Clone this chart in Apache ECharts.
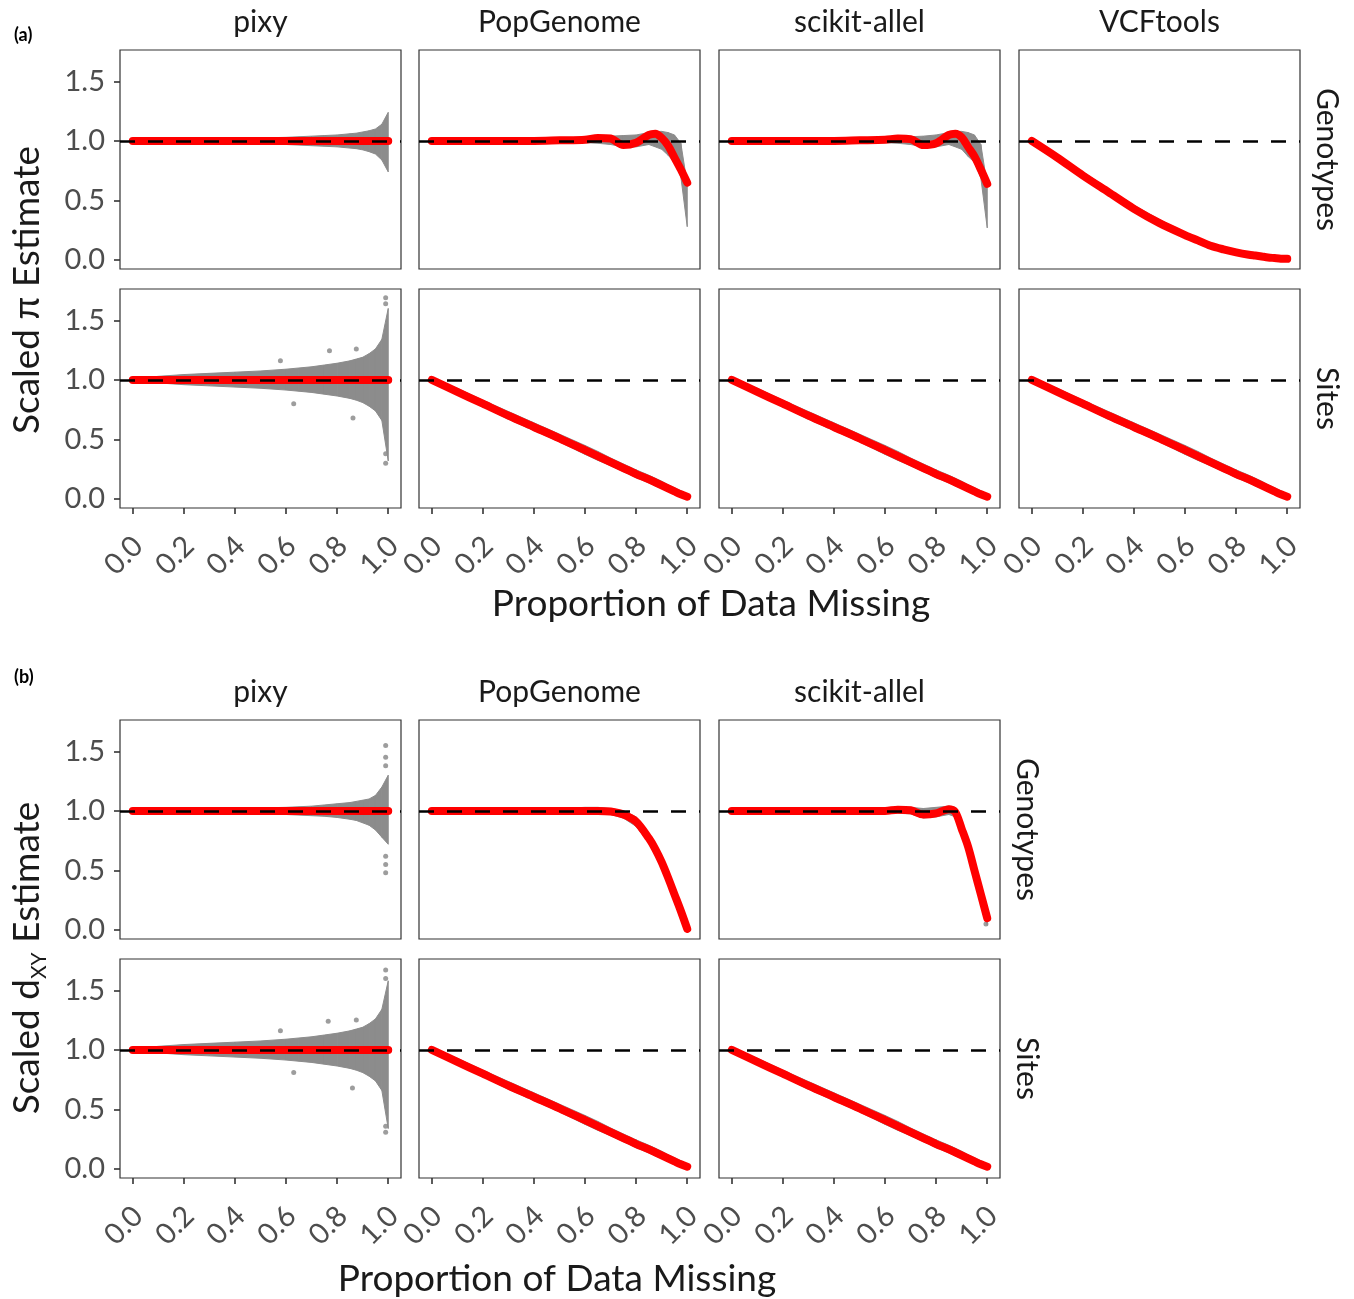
<!DOCTYPE html>
<html>
<head>
<meta charset="utf-8">
<script src="https://cdn.jsdelivr.net/npm/echarts@6.0.0/dist/echarts.min.js"></script>
<style>
  body { margin: 0; background: #fff; }
  #chart { width: 1354px; height: 1299px; }
</style>
</head>
<body>
<div id="chart"></div>
<script>
// proportion of data missing, where the curves were read
const xGrid = [0, 0.1, 0.2, 0.3, 0.4, 0.5, 0.6, 0.65, 0.7, 0.75, 0.8, 0.85, 0.875, 0.9, 0.925, 0.95, 0.975, 1.0]

const xTicks = [0, 0.2, 0.4, 0.6, 0.8, 1.0]
const xTickText = ['0.0', '0.2', '0.4', '0.6', '0.8', '1.0']
const yTicks = [0, 0.5, 1.0, 1.5]
const yTickText = ['0.0', '0.5', '1.0', '1.5']

const tools = ['pixy', 'PopGenome', 'scikit-allel', 'VCFtools']
const missingTypes = ['Genotypes', 'Sites']

// (a) pi, genotypes missing
const piPixyGenoFit = [1, 1, 1, 1, 1, 1, 1, 1, 1, 1, 1, 1, 1, 1, 1, 1, 1, 1]
const piPixyGenoHi = [1.005, 1.01, 1.012, 1.015, 1.02, 1.025, 1.03, 1.035, 1.04, 1.045, 1.05, 1.06, 1.065, 1.075, 1.085, 1.10, 1.14, 1.24]
const piPixyGenoLo = [0.995, 0.99, 0.988, 0.985, 0.98, 0.975, 0.97, 0.965, 0.96, 0.955, 0.95, 0.94, 0.935, 0.925, 0.91, 0.89, 0.84, 0.74]

const piPopGenoFit = [1.0, 1.0, 1.0, 1.0, 1.0, 1.005, 1.01, 1.025, 1.02, 0.965, 0.985, 1.05, 1.06, 1.025, 0.96, 0.86, 0.76, 0.65]
const piPopGenoHi = [1.01, 1.01, 1.01, 1.01, 1.012, 1.015, 1.02, 1.035, 1.04, 1.045, 1.05, 1.07, 1.08, 1.08, 1.07, 1.05, 0.98, 0.64]
const piPopGenoLo = [0.99, 0.99, 0.99, 0.99, 0.988, 0.985, 0.985, 0.98, 0.97, 0.95, 0.95, 0.97, 0.95, 0.93, 0.88, 0.82, 0.70, 0.28]

const piSkGenoFit = [1.0, 1.0, 1.0, 1.0, 1.0, 1.005, 1.01, 1.02, 1.015, 0.965, 0.98, 1.05, 1.06, 1.03, 0.95, 0.87, 0.76, 0.64]
const piSkGenoHi = [1.01, 1.01, 1.01, 1.01, 1.012, 1.015, 1.02, 1.03, 1.035, 1.04, 1.05, 1.07, 1.08, 1.08, 1.07, 1.05, 0.97, 0.63]
const piSkGenoLo = [0.99, 0.99, 0.99, 0.99, 0.988, 0.985, 0.985, 0.98, 0.97, 0.95, 0.95, 0.97, 0.95, 0.93, 0.87, 0.82, 0.69, 0.27]

const piVcfGenoFit = [1.0, 0.86, 0.71, 0.57, 0.43, 0.31, 0.21, 0.165, 0.12, 0.09, 0.065, 0.045, 0.038, 0.03, 0.022, 0.017, 0.012, 0.01]
const piVcfGenoHi = [1.01, 0.885, 0.74, 0.60, 0.46, 0.34, 0.235, 0.19, 0.145, 0.11, 0.085, 0.065, 0.055, 0.045, 0.035, 0.03, 0.025, 0.02]
const piVcfGenoLo = [0.99, 0.85, 0.70, 0.56, 0.42, 0.30, 0.20, 0.155, 0.11, 0.08, 0.055, 0.035, 0.028, 0.02, 0.014, 0.01, 0.006, 0.004]

// (a) pi, sites missing
const piPixySitesFit = [1, 1, 1, 1, 1, 1, 1, 1, 1, 1, 1, 1, 1, 1, 1, 1, 1, 1]
const piPixySitesHi = [1.01, 1.03, 1.045, 1.055, 1.065, 1.075, 1.09, 1.10, 1.11, 1.125, 1.14, 1.16, 1.175, 1.19, 1.22, 1.26, 1.34, 1.60]
const piPixySitesLo = [0.99, 0.975, 0.96, 0.95, 0.94, 0.93, 0.915, 0.905, 0.895, 0.88, 0.865, 0.845, 0.83, 0.81, 0.78, 0.74, 0.66, 0.32]
const piPixySitesStray = [[0.578, 1.16], [0.63, 0.80], [0.77, 1.245], [0.862, 0.68], [0.875, 1.26], [0.99, 1.69], [0.99, 1.64], [0.99, 0.38], [0.99, 0.30]]

// the linear fall-off shared by the non-pixy tools when whole sites are missing
const sitesFit = [1.0, 0.90, 0.80, 0.70, 0.605, 0.51, 0.41, 0.36, 0.31, 0.26, 0.21, 0.165, 0.14, 0.115, 0.09, 0.065, 0.04, 0.02]
const sitesHi = [1.01, 0.93, 0.83, 0.735, 0.64, 0.545, 0.45, 0.40, 0.345, 0.295, 0.245, 0.20, 0.175, 0.15, 0.12, 0.095, 0.07, 0.035]
const sitesLo = [0.99, 0.875, 0.775, 0.67, 0.575, 0.48, 0.375, 0.325, 0.28, 0.23, 0.18, 0.135, 0.11, 0.09, 0.065, 0.04, 0.02, 0.01]

// (b) dxy, genotypes missing
const dxyPixyGenoFit = [1, 1, 1, 1, 1, 1, 1, 1, 1, 1, 1, 1, 1, 1, 1, 1, 1, 1]
const dxyPixyGenoHi = [1.005, 1.01, 1.012, 1.015, 1.02, 1.025, 1.03, 1.035, 1.04, 1.05, 1.06, 1.07, 1.08, 1.09, 1.10, 1.13, 1.20, 1.30]
const dxyPixyGenoLo = [0.995, 0.99, 0.988, 0.985, 0.98, 0.975, 0.97, 0.965, 0.96, 0.955, 0.945, 0.93, 0.92, 0.90, 0.88, 0.84, 0.78, 0.72]
const dxyPixyGenoStray = [[0.99, 1.55], [0.99, 1.45], [0.99, 1.38], [0.99, 0.62], [0.99, 0.55], [0.99, 0.48]]

const dxyPopGenoFit = [1.0, 1.0, 1.0, 1.0, 1.0, 1.0, 1.0, 1.0, 0.995, 0.97, 0.91, 0.77, 0.68, 0.57, 0.44, 0.30, 0.16, 0.01]
const dxyPopGenoHi = [1.01, 1.01, 1.01, 1.015, 1.02, 1.02, 1.03, 1.03, 1.02, 1.0, 0.95, 0.81, 0.72, 0.61, 0.48, 0.34, 0.20, 0.03]
const dxyPopGenoLo = [0.99, 0.99, 0.99, 0.99, 0.985, 0.985, 0.98, 0.975, 0.97, 0.94, 0.87, 0.73, 0.64, 0.53, 0.40, 0.26, 0.12, 0.0]

const dxySkGenoFit = [1.0, 1.0, 1.0, 1.0, 1.0, 1.0, 1.0, 1.01, 1.005, 0.97, 0.98, 1.015, 0.99, 0.85, 0.70, 0.50, 0.30, 0.10]
const dxySkGenoHi = [1.01, 1.01, 1.01, 1.01, 1.015, 1.02, 1.02, 1.03, 1.03, 1.02, 1.03, 1.04, 1.03, 0.90, 0.74, 0.54, 0.34, 0.12]
const dxySkGenoLo = [0.99, 0.99, 0.99, 0.99, 0.985, 0.98, 0.98, 0.98, 0.975, 0.94, 0.95, 0.97, 0.95, 0.81, 0.66, 0.46, 0.26, 0.04]
const dxySkGenoStray = [[0.995, 0.05]]

// (b) dxy, sites missing
const dxyPixySitesFit = [1, 1, 1, 1, 1, 1, 1, 1, 1, 1, 1, 1, 1, 1, 1, 1, 1, 1]
const dxyPixySitesHi = [1.01, 1.03, 1.045, 1.055, 1.065, 1.075, 1.09, 1.10, 1.11, 1.125, 1.14, 1.16, 1.175, 1.19, 1.22, 1.26, 1.34, 1.58]
const dxyPixySitesLo = [0.99, 0.975, 0.96, 0.95, 0.94, 0.93, 0.915, 0.905, 0.895, 0.88, 0.865, 0.845, 0.83, 0.81, 0.78, 0.74, 0.66, 0.34]
const dxyPixySitesStray = [[0.578, 1.16], [0.63, 0.81], [0.765, 1.24], [0.86, 0.68], [0.875, 1.25], [0.99, 1.67], [0.99, 1.60], [0.99, 0.36], [0.99, 0.31]]

// layout of the facets (pixels)
const colLeft = [120, 419, 719, 1019]
const rowTop = { a: [50, 289], b: [720, 959] }
const panelW = 281
const panelH = 219

const panels = [
  { block: 'a', row: 0, col: 0, fit: piPixyGenoFit, hi: piPixyGenoHi, lo: piPixyGenoLo },
  { block: 'a', row: 0, col: 1, fit: piPopGenoFit, hi: piPopGenoHi, lo: piPopGenoLo },
  { block: 'a', row: 0, col: 2, fit: piSkGenoFit, hi: piSkGenoHi, lo: piSkGenoLo },
  { block: 'a', row: 0, col: 3, fit: piVcfGenoFit, hi: piVcfGenoHi, lo: piVcfGenoLo },
  { block: 'a', row: 1, col: 0, fit: piPixySitesFit, hi: piPixySitesHi, lo: piPixySitesLo, stray: piPixySitesStray },
  { block: 'a', row: 1, col: 1, fit: sitesFit, hi: sitesHi, lo: sitesLo },
  { block: 'a', row: 1, col: 2, fit: sitesFit, hi: sitesHi, lo: sitesLo },
  { block: 'a', row: 1, col: 3, fit: sitesFit, hi: sitesHi, lo: sitesLo },
  { block: 'b', row: 0, col: 0, fit: dxyPixyGenoFit, hi: dxyPixyGenoHi, lo: dxyPixyGenoLo, stray: dxyPixyGenoStray },
  { block: 'b', row: 0, col: 1, fit: dxyPopGenoFit, hi: dxyPopGenoHi, lo: dxyPopGenoLo },
  { block: 'b', row: 0, col: 2, fit: dxySkGenoFit, hi: dxySkGenoHi, lo: dxySkGenoLo, stray: dxySkGenoStray },
  { block: 'b', row: 1, col: 0, fit: dxyPixySitesFit, hi: dxyPixySitesHi, lo: dxyPixySitesLo, stray: dxyPixySitesStray },
  { block: 'b', row: 1, col: 1, fit: sitesFit, hi: sitesHi, lo: sitesLo },
  { block: 'b', row: 1, col: 2, fit: sitesFit, hi: sitesHi, lo: sitesLo }
]

const FONT = 'Lato, "Noto Sans", sans-serif'
const GREY = '#8c8c8c'

function tickText(ticks, texts, v) {
  let k = 0
  for (let i = 1; i < ticks.length; i++) {
    if (Math.abs(ticks[i] - v) < Math.abs(ticks[k] - v)) k = i
  }
  return texts[k]
}

function renderBand(params, api) {
  const p1 = api.coord([api.value(0), api.value(1)])
  const p2 = api.coord([api.value(0), api.value(2)])
  const p3 = api.coord([api.value(3), api.value(5)])
  const p4 = api.coord([api.value(3), api.value(4)])
  return {
    type: 'polygon',
    shape: { points: [p1, p2, p3, p4] },
    style: { fill: GREY, stroke: GREY, lineWidth: 1 }
  }
}

const grids = []
const xAxes = []
const yAxes = []
const series = []

panels.forEach((p, i) => {
  const isBottom = p.row === 1
  const isLeft = p.col === 0
  grids.push({
    left: colLeft[p.col], top: rowTop[p.block][p.row], width: panelW, height: panelH,
    show: true, borderColor: '#333', borderWidth: 1.2, backgroundColor: '#fff',
    outerBoundsMode: 'none', containLabel: false
  })
  xAxes.push({
    type: 'value', gridIndex: i, min: -0.05, max: 1.05,
    axisLine: { show: false, onZero: false }, splitLine: { show: false },
    axisTick: { show: isBottom, inside: false, length: 6, lineStyle: { color: '#333', width: 1.6 }, customValues: xTicks },
    axisLabel: {
      show: isBottom, customValues: xTicks, rotate: 45, margin: 18,
      verticalAlign: 'top', padding: [0, 7, 0, 0],
      fontSize: 29, color: '#4d4d4d', fontFamily: FONT,
      formatter: v => tickText(xTicks, xTickText, v)
    }
  })
  yAxes.push({
    type: 'value', gridIndex: i, min: -0.075, max: 1.763,
    axisLine: { show: false, onZero: false }, splitLine: { show: false },
    axisTick: { show: isLeft, inside: false, length: 6, lineStyle: { color: '#333', width: 1.6 }, customValues: yTicks },
    axisLabel: {
      show: isLeft, customValues: yTicks, margin: 15,
      fontSize: 29, color: '#4d4d4d', fontFamily: FONT,
      formatter: v => tickText(yTicks, yTickText, v)
    }
  })

  const quads = []
  for (let k = 0; k < xGrid.length - 1; k++) {
    quads.push([xGrid[k], p.lo[k], p.hi[k], xGrid[k + 1], p.lo[k + 1], p.hi[k + 1]])
  }
  series.push({
    type: 'custom', xAxisIndex: i, yAxisIndex: i, silent: true, z: 1,
    renderItem: renderBand, data: quads,
    encode: { x: [0, 3], y: [1, 2, 4, 5] }
  })
  if (p.stray) {
    series.push({
      type: 'scatter', xAxisIndex: i, yAxisIndex: i, silent: true, z: 1,
      symbolSize: 5, itemStyle: { color: GREY, opacity: 0.85 }, data: p.stray
    })
  }
  series.push({
    type: 'line', xAxisIndex: i, yAxisIndex: i, silent: true, z: 3,
    data: xGrid.map((x, k) => [x, p.fit[k]]),
    showSymbol: false, smooth: 0.3,
    lineStyle: { color: '#ff0000', width: 8, cap: 'round', join: 'round' },
    markLine: {
      silent: true, symbol: ['none', 'none'], label: { show: false }, z: 5,
      lineStyle: { color: '#000', width: 2.6, type: [15, 13] },
      emphasis: { disabled: true },
      data: [{ yAxis: 1 }]
    }
  })
})

// facet strips and axis titles
const graphic = []
function addText(text, x, y, size, extra) {
  graphic.push(Object.assign({
    type: 'text', x: x, y: y, silent: true,
    style: { text: text, fontSize: size, fontFamily: FONT, fill: '#1a1a1a', align: 'center', verticalAlign: 'middle' }
  }, extra || {}))
}

tools.forEach((t, c) => addText(t, colLeft[c] + panelW / 2, 22, 30))
tools.slice(0, 3).forEach((t, c) => addText(t, colLeft[c] + panelW / 2, 692, 30))
missingTypes.forEach((m, r) => {
  addText(m, 1327, rowTop.a[r] + panelH / 2, 30, { rotation: -Math.PI / 2 })
  addText(m, 1027, rowTop.b[r] + panelH / 2, 30, { rotation: -Math.PI / 2 })
})

addText('Proportion of Data Missing', 711, 604, 37)
addText('Proportion of Data Missing', 557, 1279, 37)
addText('Scaled \u03c0 Estimate', 27, 290, 37, { rotation: Math.PI / 2 })
graphic.push({
  type: 'text', x: 27, y: 958, rotation: Math.PI / 2, silent: true,
  style: {
    text: '{m|Scaled d}{s|XY}{m| Estimate}',
    fontFamily: FONT, fill: '#1a1a1a', align: 'center', verticalAlign: 'middle',
    rich: {
      m: { fontSize: 37, fontFamily: FONT, fill: '#1a1a1a', lineHeight: 46 },
      s: { fontSize: 21, fontFamily: FONT, fill: '#1a1a1a', lineHeight: 46, verticalAlign: 'bottom', padding: [14, 0, 0, 0] }
    }
  }
})
graphic.push({
  type: 'text', x: 14, y: 35, silent: true,
  style: { text: '(a)', fontSize: 18, fontWeight: 'bold', fontFamily: FONT, fill: '#000', align: 'left', verticalAlign: 'middle' }
})
graphic.push({
  type: 'text', x: 14, y: 677, silent: true,
  style: { text: '(b)', fontSize: 18, fontWeight: 'bold', fontFamily: FONT, fill: '#000', align: 'left', verticalAlign: 'middle' }
})

const chart = echarts.init(document.getElementById('chart'), null, { renderer: 'canvas' })
chart.setOption({
  animation: false,
  backgroundColor: '#fff',
  grid: grids,
  xAxis: xAxes,
  yAxis: yAxes,
  series: series,
  graphic: graphic
})
</script>
</body>
</html>
